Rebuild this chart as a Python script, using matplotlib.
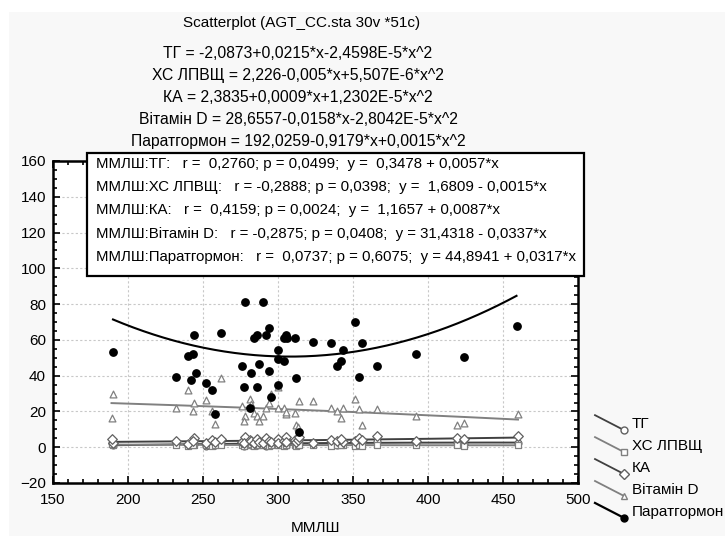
import numpy as np
import matplotlib.pyplot as plt
from matplotlib.legend_handler import HandlerLine2D
from matplotlib.lines import Line2D
from matplotlib.patches import Rectangle
from matplotlib.ticker import MultipleLocator

plt.rcParams['font.family'] = ['Liberation Sans', 'DejaVu Sans']

# --- data ---
# patients' ММЛШ values (shared by the small series and vitamin D)
mmlsh = [190, 189, 232, 240, 244, 243, 252, 256, 258, 262, 276, 278, 277, 281, 282,
         284, 286, 287, 290, 292, 294, 295, 300, 300, 304, 305, 305, 311, 312, 313,
         314, 323, 335, 339, 343, 342, 351, 354, 356, 366, 392, 419, 424, 460]
tg = [1.4, 2.2, 2.6, 1.0, 1.8, 3.1, 0.9, 2.0, 1.2, 2.4, 3.0, 1.6, 0.8, 2.8, 1.1,
      2.2, 1.5, 3.2, 1.9, 0.9, 2.5, 1.3, 2.9, 1.7, 2.0, 3.4, 1.0, 2.3, 1.4, 2.7,
      1.8, 2.1, 2.6, 1.5, 3.0, 1.9, 2.4, 1.2, 2.8, 3.3, 2.2, 2.9, 1.8, 2.6]
hs_lpvsh = [1.0, 1.6, 1.2, 0.8, 1.4, 1.1, 1.3, 0.9, 1.5, 1.2, 1.0, 1.4, 0.7, 1.2, 1.6,
            0.9, 1.1, 1.3, 1.0, 1.5, 0.8, 1.2, 1.4, 1.0, 0.9, 1.3, 1.1, 1.2, 0.8, 1.0,
            1.4, 1.1, 0.9, 1.3, 1.0, 1.2, 0.8, 1.1, 0.9, 1.0, 1.2, 1.1, 0.9, 1.0]
ka = [2.5, 4.8, 3.2, 2.0, 5.2, 3.6, 2.4, 4.1, 2.8, 4.5, 3.0, 5.6, 2.2, 4.0, 3.3,
      2.6, 4.4, 3.1, 2.3, 5.0, 3.7, 2.9, 4.6, 2.1, 3.4, 5.8, 3.0, 4.2, 2.7, 3.9,
      5.5, 2.5, 4.3, 3.6, 2.9, 4.7, 3.2, 5.1, 3.8, 6.0, 3.5, 4.9, 4.4, 6.2]
vit_d = [30.0, 16.4, 22.0, 31.8, 25.0, 20.1, 26.4, 20.1, 13.2, 38.7, 23.1, 17.3, 14.4,
         27.0, 24.2, 19.2, 17.3, 14.4, 17.3, 22.2, 25.0, 30.0, 33.7, 22.2, 22.2, 18.6,
         19.7, 19.2, 12.4, 11.5, 26.1, 26.1, 22.2, 20.1, 22.2, 16.4, 27.0, 21.3, 12.4,
         21.3, 17.3, 12.4, 13.4, 18.6]

ptg_x = [190, 278, 290, 244, 262, 240, 243, 245, 232, 242, 252, 256, 258, 276, 282,
         287, 277, 286, 281, 284, 286, 292, 294, 294, 295, 300, 300, 300, 304, 304,
         305, 306, 311, 312, 314, 323, 335, 343, 342, 339, 351, 356, 354, 366, 392,
         424, 459]
ptg = [53.2, 81.4, 81.4, 63.0, 63.9, 51.0, 52.3, 41.5, 39.5, 37.8, 35.8, 32.0, 18.4,
       45.4, 41.5, 46.5, 33.7, 33.7, 22.0, 60.9, 63.0, 63.0, 66.9, 42.6, 27.9, 54.2,
       49.3, 34.8, 48.2, 61.1, 63.0, 61.1, 60.9, 38.7, 8.5, 59.0, 58.1, 54.2, 48.2,
       45.4, 69.8, 58.1, 39.5, 45.4, 52.3, 50.3, 67.6]

# quadratic fit curves as drawn: c0 + c1*x + c2*x^2
fits = {
    'ТГ': (-2.0873, 0.0215, -2.4598e-5),
    'ХС ЛПВЩ': (2.226, -0.005, 5.507e-6),
    'КА': (2.3835, 0.0009, 1.2302e-5),
    'Вітамін D': (28.6557, -0.0158, -2.8042e-5),
    'Паратгормон': (192.0259, -0.9179, 0.00149),
}

title_lines = [
    'ТГ = -2,0873+0,0215*x-2,4598E-5*x^2',
    'ХС ЛПВЩ = 2,226-0,005*x+5,507E-6*x^2',
    'КА = 2,3835+0,0009*x+1,2302E-5*x^2',
    'Вітамін D = 28,6557-0,0158*x-2,8042E-5*x^2',
    'Паратгормон = 192,0259-0,9179*x+0,0015*x^2',
]
box_lines = [
    'ММЛШ:ТГ:   r =  0,2760; p = 0,0499;  y =  0,3478 + 0,0057*x',
    'ММЛШ:ХС ЛПВЩ:   r = -0,2888; p = 0,0398;  y =  1,6809 - 0,0015*x',
    'ММЛШ:КА:   r =  0,4159; p = 0,0024;  y =  1,1657 + 0,0087*x',
    'ММЛШ:Вітамін D:   r = -0,2875; p = 0,0408;  y = 31,4318 - 0,0337*x',
    'ММЛШ:Паратгормон:   r =  0,0737; p = 0,6075;  y = 44,8941 + 0,0317*x',
]

fig = plt.figure(figsize=(7.25, 5.36), dpi=100, facecolor='white')
fig.patches.append(Rectangle((9 / 725, 0), 1, 1 - 12 / 536, transform=fig.transFigure,
                             facecolor='#f8f8f8', edgecolor='none', zorder=-10))
ax = fig.add_axes([53 / 725, 1 - 483 / 536, 525 / 725, 322 / 536])
ax.set_facecolor('white')

styles = [
    ('ТГ', tg, 'o', '#404040', '#606060'),
    ('ХС ЛПВЩ', hs_lpvsh, 's', '#808080', '#808080'),
    ('КА', ka, 'D', '#404040', '#606060'),
    ('Вітамін D', vit_d, '^', '#808080', '#808080'),
]
xx = np.linspace(min(mmlsh), max(mmlsh), 200)
handles = []
for name, vals, mk, lc, mc in styles:
    ax.scatter(mmlsh, vals, marker=mk, s=24, facecolors='white', edgecolors=mc,
               linewidths=0.9, zorder=3)
    c0, c1, c2 = fits[name]
    ax.plot(xx, c0 + c1 * xx + c2 * xx ** 2, color=lc, lw=1.4, zorder=2)
    handles.append(Line2D([], [], color=lc, lw=1.3, marker=mk, markersize=5,
                          markerfacecolor='white', markeredgecolor=mc, label=name))

ax.scatter(ptg_x, ptg, marker='o', s=28, color='black', zorder=4)
xp = np.linspace(min(ptg_x), max(ptg_x), 200)
c0, c1, c2 = fits['Паратгормон']
ax.plot(xp, c0 + c1 * xp + c2 * xp ** 2, color='black', lw=1.5, zorder=4)
handles.append(Line2D([], [], color='black', lw=1.6, marker='o', markersize=5,
                      label='Паратгормон'))

ax.set_xlim(150, 500)
ax.set_ylim(-20, 160)
ax.xaxis.set_major_locator(MultipleLocator(50))
ax.xaxis.set_minor_locator(MultipleLocator(10))
ax.yaxis.set_major_locator(MultipleLocator(20))
ax.yaxis.set_minor_locator(MultipleLocator(5))
ax.tick_params(which='both', direction='in', top=True, right=True, width=1.2,
               labelsize=11, colors='black')
ax.tick_params(which='major', length=5)
ax.tick_params(axis='x', which='major', pad=7)
ax.tick_params(axis='y', which='major', pad=5)
ax.tick_params(which='minor', length=3)
for sp in ax.spines.values():
    sp.set_linewidth(1.8)
ax.grid(True, which='major', color='#c8c8c8', linestyle=(0, (2, 2)), lw=0.8)
ax.set_axisbelow(True)
ax.set_xlabel('ММЛШ', fontsize=11, labelpad=10)

fig.text(302 / 725, 1 - 23 / 536, 'Scatterplot (AGT_CC.sta 30v *51c)', ha='center',
         va='center', fontsize=11)
for i, line in enumerate(title_lines):
    fig.text(298 / 725, 1 - (54 + 21.8 * i) / 536, line, ha='center', va='center',
             fontsize=11.3)

fig.patches.append(Rectangle((87 / 725, 1 - 276 / 536), 497 / 725, 123 / 536,
                             transform=fig.transFigure, facecolor='white',
                             edgecolor='black', lw=1.6, zorder=5))
for i, line in enumerate(box_lines):
    fig.text(96 / 725, 1 - (164 + 23.2 * i) / 536, line, ha='left', va='center',
             fontsize=10.8, zorder=6)


class DiagHandler(HandlerLine2D):
    def create_artists(self, legend, orig_handle, xdescent, ydescent, width, height,
                       fontsize, trans):
        arts = super().create_artists(legend, orig_handle, xdescent, ydescent, width,
                                      height, fontsize, trans)
        line = arts[0]
        x0, x1 = -xdescent, width - xdescent
        line.set_xdata([x0, x1])
        line.set_ydata([height * 1.2 - ydescent, -height * 0.2 - ydescent])
        return arts


leg = fig.legend(handles=handles, loc='upper left',
                 bbox_to_anchor=(595 / 725, 1 - 417 / 536), frameon=False,
                 fontsize=11, handlelength=1.9, handletextpad=0.5, labelspacing=0.52,
                 borderaxespad=0, borderpad=0, handler_map={Line2D: DiagHandler()})

fig.savefig('out.png', dpi=100, facecolor=fig.get_facecolor())
